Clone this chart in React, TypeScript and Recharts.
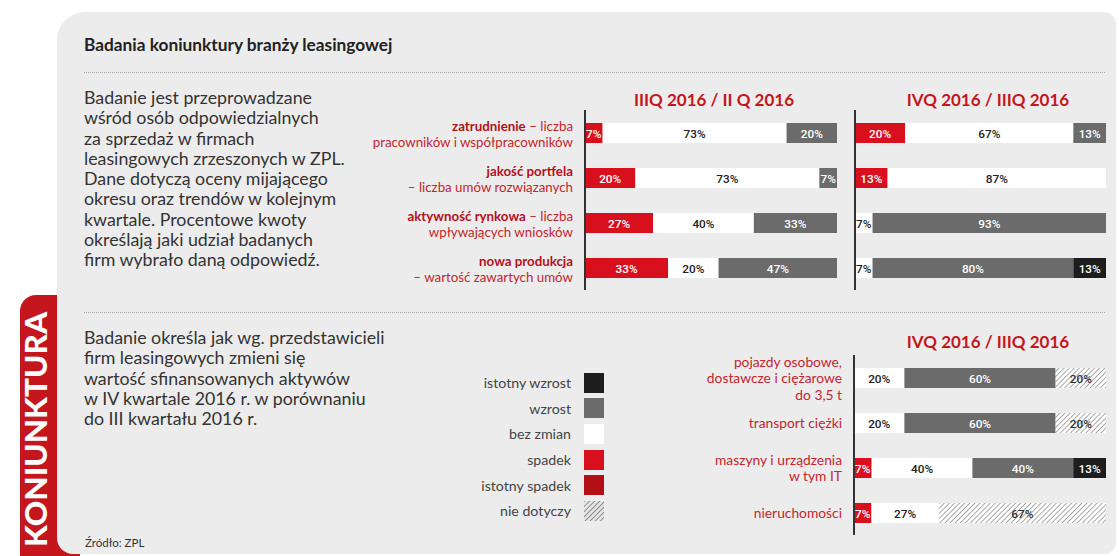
import React from "react";
import { Bar, BarChart, LabelList, Legend, XAxis, YAxis } from "recharts";

const FONT = "Lato, 'Noto Sans', sans-serif";
const NUM_FONT = "Roboto, sans-serif";

// series, in stacking order
const seriesKeys = ["istotnySpadek", "spadek", "bezZmian", "wzrost", "istotnyWzrost", "nieDotyczy"];
const seriesNames = ["istotny spadek", "spadek", "bez zmian", "wzrost", "istotny wzrost", "nie dotyczy"];
const legendOrder = ["istotnyWzrost", "wzrost", "bezZmian", "spadek", "istotnySpadek", "nieDotyczy"];

const colors = {
  istotnySpadek: "#b20e15",
  spadek: "#d8101e",
  bezZmian: "#ffffff",
  wzrost: "#6b6b6b",
  istotnyWzrost: "#1d1d1d",
  nieDotyczy: "url(#hatch)",
};
const textColors = {
  istotnySpadek: "#ffffff",
  spadek: "#ffffff",
  bezZmian: "#222222",
  wzrost: "#ffffff",
  istotnyWzrost: "#ffffff",
  nieDotyczy: "#333333",
};

// top charts: categories and labels
const trendCategories = ["zatrudnienie", "jakość portfela", "aktywność rynkowa", "nowa produkcja"];
const trendLabelBold = ["zatrudnienie", "jakość portfela", "aktywność rynkowa", "nowa produkcja"];
const trendLabelTail = [" – liczba", "", " – liczba", ""];
const trendLabelSecond = [
  "pracowników i współpracowników",
  "– liczba umów rozwiązanych",
  "wpływających wniosków",
  "– wartość zawartych umów",
];

// IIIQ 2016 / II Q 2016
const q3Spadek = [7, 20, 27, 33];
const q3BezZmian = [73, 73, 40, 20];
const q3Wzrost = [20, 7, 33, 47];
const q3IstotnyWzrost = [0, 0, 0, 0];

// IVQ 2016 / IIIQ 2016
const q4Spadek = [20, 13, 0, 0];
const q4BezZmian = [67, 87, 7, 7];
const q4Wzrost = [13, 0, 93, 80];
const q4IstotnyWzrost = [0, 0, 0, 13];

// bottom chart: assets
const assetCategories = ["pojazdy", "transport ciężki", "maszyny", "nieruchomości"];
const assetLabelLines = [
  ["pojazdy osobowe,", "dostawcze i ciężarowe", "do 3,5 t"],
  ["transport ciężki"],
  ["maszyny i urządzenia", "w tym IT"],
  ["nieruchomości"],
];
const assetIstotnySpadek = [0, 0, 0, 0];
const assetSpadek = [0, 0, 7, 7];
const assetBezZmian = [20, 20, 40, 27];
const assetWzrost = [60, 60, 40, 0];
const assetIstotnyWzrost = [0, 0, 13, 0];
const assetNieDotyczy = [20, 20, 0, 67];

const introLines = [
  "Badanie jest przeprowadzane",
  "wśród osób odpowiedzialnych",
  "za sprzedaż w firmach",
  "leasingowych zrzeszonych w ZPL.",
  "Dane dotyczą oceny mijającego",
  "okresu oraz trendów w kolejnym",
  "kwartale. Procentowe kwoty",
  "określają jaki udział  badanych",
  "firm wybrało daną odpowiedź.",
];
const assetIntroLines = [
  "Badanie określa jak wg. przedstawicieli",
  "firm leasingowych zmieni się",
  "wartość sfinansowanych aktywów",
  "w IV kwartale 2016 r. w porównaniu",
  "do III kwartału 2016 r.",
];

const makeRows = (names: string[], values: Record<string, number[]>) =>
  names.map((name, i) => {
    const row: Record<string, any> = { name };
    Object.keys(values).forEach((k) => {
      row[k] = values[k][i];
    });
    return row;
  });

const q3Data = makeRows(trendCategories, {
  spadek: q3Spadek,
  bezZmian: q3BezZmian,
  wzrost: q3Wzrost,
  istotnyWzrost: q3IstotnyWzrost,
});
const q4Data = makeRows(trendCategories, {
  spadek: q4Spadek,
  bezZmian: q4BezZmian,
  wzrost: q4Wzrost,
  istotnyWzrost: q4IstotnyWzrost,
});
const assetData = makeRows(assetCategories, {
  istotnySpadek: assetIstotnySpadek,
  spadek: assetSpadek,
  bezZmian: assetBezZmian,
  wzrost: assetWzrost,
  istotnyWzrost: assetIstotnyWzrost,
  nieDotyczy: assetNieDotyczy,
});

const SegmentLabel = (props: any) => {
  const box = props.viewBox && props.viewBox.width != null ? props.viewBox : props;
  const { x, y, width, height } = box;
  if (!props.value) return null;
  return (
    <text
      x={Number(x) + Number(width) / 2}
      y={Number(y) + Number(height) / 2 + 1}
      textAnchor="middle"
      dominantBaseline="central"
      fill={props.color}
      fontFamily={NUM_FONT}
      fontSize={11.8}
      fontWeight={500}
    >
      {props.value}%
    </text>
  );
};

const renderSeries = (keys: string[]) =>
  keys.map((key) => (
    <Bar
      key={key}
      dataKey={key}
      name={seriesNames[seriesKeys.indexOf(key)]}
      stackId="s"
      fill={colors[key]}
      barSize={20}
      isAnimationActive={false}
    >
      <LabelList
        dataKey={key}
        content={(p: any) => <SegmentLabel {...p} color={textColors[key]} />}
      />
    </Bar>
  ));

const TrendTick = ({ x, y, payload }: any) => {
  const i = trendCategories.indexOf(payload.value);
  return (
    <text textAnchor="end" fontFamily={FONT} fontSize={13.3} fill="#c3262d">
      <tspan x={x} y={y - 2}>
        <tspan fontWeight={700} fill="#b3121b">
          {trendLabelBold[i]}
        </tspan>
        {trendLabelTail[i]}
      </tspan>
      <tspan x={x} y={y + 14}>
        {trendLabelSecond[i]}
      </tspan>
    </text>
  );
};

const AssetTick = ({ x, y, payload }: any) => {
  const i = assetCategories.indexOf(payload.value);
  const lines = assetLabelLines[i];
  const start = y - ((lines.length - 1) * 16.5) / 2 + 5.5;
  return (
    <text textAnchor="end" fontFamily={FONT} fontSize={13.8} fill="#c3262d">
      {lines.map((l, k) => (
        <tspan key={k} x={x} y={start + k * 16.5}>
          {l}
        </tspan>
      ))}
    </text>
  );
};

const LegendBox = ({ payload }: any) => (
  <div style={{ width: 164 }}>
    {legendOrder.map((key) => {
      const item = (payload || []).find((p: any) => p.dataKey === key);
      const label = item ? item.value : seriesNames[seriesKeys.indexOf(key)];
      return (
        <div
          key={key}
          style={{
            height: 25.6,
            display: "flex",
            alignItems: "center",
            justifyContent: "flex-end",
            fontFamily: FONT,
            fontSize: 14.2,
            color: "#444",
          }}
        >
          <span>{label}</span>
          <svg width={20} height={20} style={{ marginLeft: 13 }}>
            <defs>
              <pattern id="hatchLegend" patternUnits="userSpaceOnUse" width={3.6} height={3.6} patternTransform="rotate(45)">
                <rect width={3.6} height={3.6} fill="#e4e4e4" />
                <line x1={0} y1={0} x2={0} y2={3.6} stroke="#666" strokeWidth={1.3} />
              </pattern>
            </defs>
            <rect
              width={20}
              height={20}
              fill={key === "nieDotyczy" ? "url(#hatchLegend)" : colors[key]}
            />
          </svg>
        </div>
      );
    })}
  </div>
);

const chartTitle: React.CSSProperties = {
  position: "absolute",
  fontFamily: FONT,
  fontWeight: 700,
  fontSize: 17,
  color: "#c4161c",
  textAlign: "center",
  lineHeight: "20px",
  whiteSpace: "nowrap",
};

const paragraph: React.CSSProperties = {
  position: "absolute",
  left: 84,
  fontFamily: FONT,
  fontSize: 17.8,
  lineHeight: "20.3px",
  color: "#333",
  whiteSpace: "nowrap",
};

export default function App() {
  return (
    <div style={{ position: "absolute", left: 0, top: 0, width: 1119, height: 556, background: "#fff", overflow: "hidden" }}>
      {/* red side tab */}
      <div style={{ position: "absolute", left: 20, top: 295, width: 60, height: 261, background: "#c4161c", borderTopLeftRadius: 16 }} />
      <svg style={{ position: "absolute", left: 0, top: 295 }} width={70} height={261}>
        <text
          transform="translate(47, 134.5) rotate(-90)"
          textAnchor="middle"
          fontFamily={FONT}
          fontWeight={900}
          fontSize={30}
          fill="#fff"
          textLength={235}
          lengthAdjust="spacingAndGlyphs"
        >
          KONIUNKTURA
        </text>
      </svg>

      {/* grey panel */}
      <div
        style={{
          position: "absolute",
          left: 57,
          top: 12,
          width: 1059,
          height: 542,
          background: "#ececec",
          borderRadius: "28px 12px 12px 16px",
        }}
      />

      <div style={{ position: "absolute", left: 84, top: 34, fontFamily: FONT, fontWeight: 700, fontSize: 17.3, lineHeight: "22px", color: "#222", whiteSpace: "nowrap" }}>
        Badania koniunktury branży leasingowej
      </div>
      <div style={{ position: "absolute", left: 84, top: 72, width: 1021, borderTop: "1px dotted #aaa" }} />
      <div style={{ position: "absolute", left: 84, top: 312, width: 1021, borderTop: "1px dotted #aaa" }} />

      <div style={{ ...paragraph, top: 87 }}>
        {introLines.map((l, i) => (
          <div key={i}>{l}</div>
        ))}
      </div>
      <div style={{ ...paragraph, top: 327 }}>
        {assetIntroLines.map((l, i) => (
          <div key={i}>{l}</div>
        ))}
      </div>
      <div style={{ position: "absolute", left: 85, top: 535, fontFamily: FONT, fontSize: 11.5, lineHeight: "16px", color: "#333" }}>
        Źródło: ZPL
      </div>

      {/* top left chart */}
      <div style={{ ...chartTitle, left: 614, top: 90, width: 200 }}>IIIQ 2016 / II Q 2016</div>
      <div style={{ position: "absolute", left: 360, top: 100 }}>
        <BarChart width={480} height={200} data={q3Data} layout="vertical" stackOffset="expand" margin={{ top: 10, right: 3, bottom: 10, left: 0 }}>
          <XAxis type="number" hide />
          <YAxis type="category" dataKey="name" width={225} axisLine={{ stroke: "#333", strokeWidth: 2 }} tickLine={false} tickSize={0} tickMargin={12} tick={<TrendTick />} interval={0} />
          {renderSeries(["spadek", "bezZmian", "wzrost", "istotnyWzrost"])}
        </BarChart>
      </div>

      {/* top right chart */}
      <div style={{ ...chartTitle, left: 888, top: 90, width: 200 }}>IVQ 2016 / IIIQ 2016</div>
      <div style={{ position: "absolute", left: 845, top: 100 }}>
        <BarChart width={265} height={200} data={q4Data} layout="vertical" stackOffset="expand" margin={{ top: 10, right: 4, bottom: 10, left: 0 }}>
          <XAxis type="number" hide />
          <YAxis type="category" dataKey="name" width={10} axisLine={{ stroke: "#333", strokeWidth: 2 }} tickLine={false} tick={false} />
          {renderSeries(["spadek", "bezZmian", "wzrost", "istotnyWzrost"])}
        </BarChart>
      </div>

      {/* bottom chart */}
      <div style={{ ...chartTitle, left: 888, top: 332, width: 200 }}>IVQ 2016 / IIIQ 2016</div>
      <div style={{ position: "absolute", left: 440, top: 345 }}>
        <BarChart width={670} height={200} data={assetData} layout="vertical" stackOffset="expand" margin={{ top: 10, right: 4, bottom: 10, left: 0 }}>
          <defs>
            <pattern id="hatch" patternUnits="userSpaceOnUse" width={3.6} height={3.6} patternTransform="rotate(45)">
              <rect width={3.6} height={3.6} fill="#ffffff" />
              <line x1={0} y1={0} x2={0} y2={3.6} stroke="#6e6e6e" strokeWidth={1.2} />
            </pattern>
          </defs>
          <XAxis type="number" hide />
          <YAxis type="category" dataKey="name" width={414} axisLine={{ stroke: "#333", strokeWidth: 2 }} tickLine={false} tickSize={0} tickMargin={12} tick={<AssetTick />} interval={0} />
          <Legend
            layout="vertical"
            align="center"
            verticalAlign="middle"
            content={<LegendBox />}
            wrapperStyle={{ left: 0, top: 25, width: 170 }}
          />
          {renderSeries(seriesKeys)}
        </BarChart>
      </div>
    </div>
  );
}
